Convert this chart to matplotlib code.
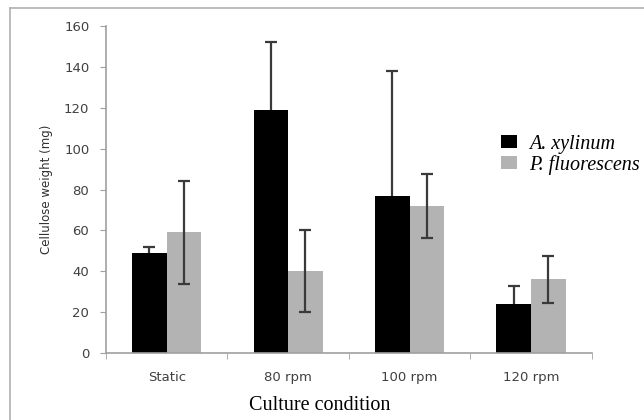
import matplotlib.pyplot as plt
import numpy as np
from matplotlib.lines import Line2D

conditions = ["Static", "80 rpm", "100 rpm", "120 rpm"]
xylinum = [49, 119, 77, 24]
xylinum_err = [3, 33, 61, 9]
fluorescens = [59, 40, 72, 36]
fluorescens_err = [25, 20, 15.5, 11.5]

fig = plt.figure(figsize=(6.44, 4.2), dpi=100)
ax = fig.add_axes([0.1646, 0.1595, 0.7544, 0.7786])

x = np.arange(len(conditions))
w = 0.285
ekw = dict(ecolor="#3a3a3a", elinewidth=1.6, capsize=4, capthick=1.6)
# black bars sit on top of their error bars, so only the upper half shows
ax.bar(x - w/2, xylinum, w, color="black", label="A. xylinum", zorder=2,
       yerr=xylinum_err, error_kw=dict(ekw, zorder=1))
ax.bar(x + w/2, fluorescens, w, color="#b3b3b3", label="P. fluorescens", zorder=2,
       yerr=fluorescens_err, error_kw=dict(ekw, zorder=3))

ax.set_xlim(-0.5, len(conditions) - 0.5)
ax.set_ylim(0, 160)
ax.set_yticks(range(0, 161, 20))
ax.set_xticks(x)
ax.set_xticklabels(conditions)
ax.set_xticks(np.arange(-0.5, len(conditions)), minor=True)
ax.tick_params(axis="x", which="major", length=0, pad=13, labelsize=9.5, labelcolor="#404040")
ax.tick_params(axis="x", which="minor", length=4, color="#a0a0a0", direction="out")
ax.tick_params(axis="y", length=4, color="#a0a0a0", labelsize=9.5, labelcolor="#404040", pad=8)
for s in ["top", "right"]:
    ax.spines[s].set_visible(False)
for s in ["left", "bottom"]:
    ax.spines[s].set_color("#a0a0a0")
    ax.spines[s].set_linewidth(1.2)

ax.set_ylabel("Cellulose weight (mg)", fontsize=8.5, color="#303030", labelpad=8)
ax.set_xlabel("Culture condition", family="Liberation Serif", fontsize=14.5)
ax.xaxis.set_label_coords(0.44, -0.13)

fig.legend(loc="upper left", bbox_to_anchor=(0.762, 0.703), frameon=False,
           prop=dict(family="Liberation Serif", style="italic", size=14.5),
           handlelength=0.8, handleheight=0.6, handletextpad=0.6,
           labelspacing=0.05, borderpad=0)

# outer frame of the picture
fig.add_artist(Line2D([10/644, 10/644], [0, 1 - 8/420], color="#b0b0b0", lw=1.2,
                      transform=fig.transFigure))
fig.add_artist(Line2D([10/644, 1], [1 - 8/420, 1 - 8/420], color="#b0b0b0", lw=1.2,
                      transform=fig.transFigure))

fig.savefig("out.png", dpi=100)
